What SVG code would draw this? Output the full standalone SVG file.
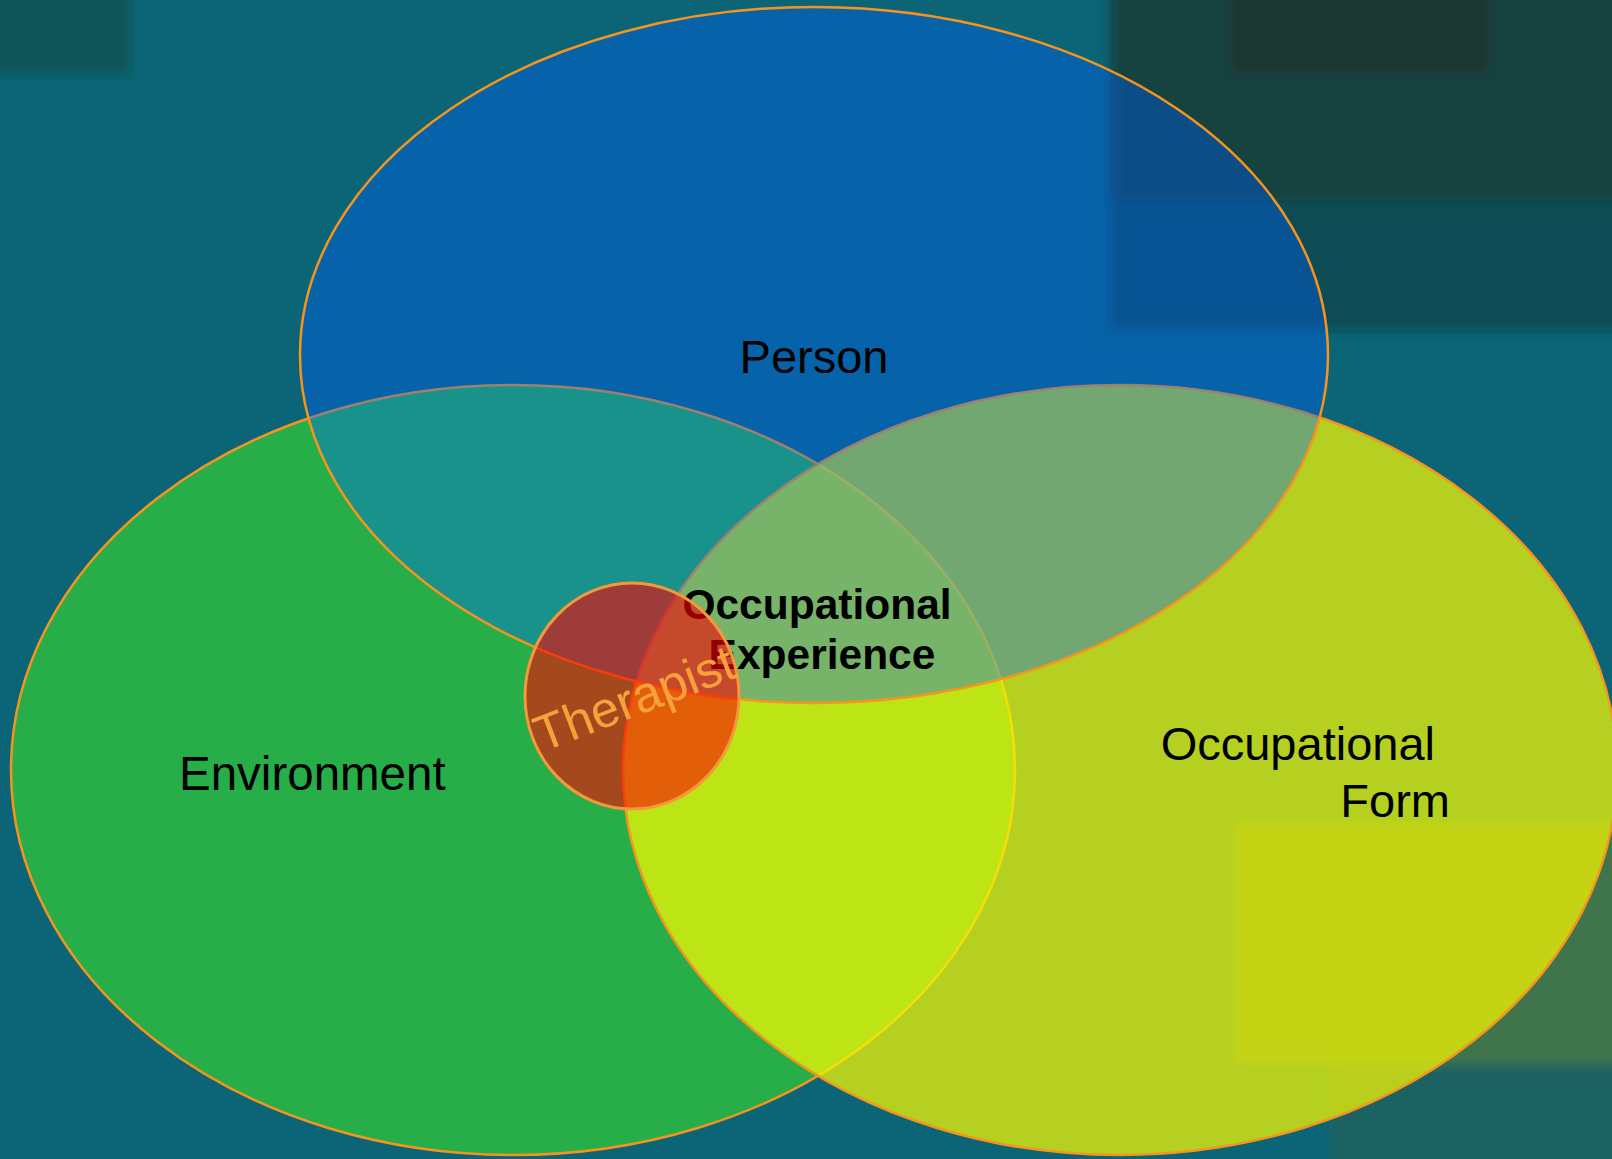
<svg xmlns="http://www.w3.org/2000/svg" width="1612" height="1159" viewBox="0 0 1612 1159">
  <defs>
    <filter id="soft" x="-10%" y="-10%" width="120%" height="120%">
      <feGaussianBlur stdDeviation="6"/>
    </filter>
    <style>
      .lbl { font-family: "Liberation Sans", Arial, sans-serif; font-size: 47px; fill: #000; }
      .bold { font-family: "Liberation Sans", Arial, sans-serif; font-size: 42.5px; font-weight: bold; fill: #000; }
      .edge { stroke: #f7941d; stroke-width: 2.5; }
    </style>
  </defs>

  <g id="background">
    <rect x="0" y="0" width="1612" height="1159" fill="#0b6577"/>
    <g filter="url(#soft)">
      <rect x="-20" y="-20" width="150" height="95" fill="#0e5558"/>
      <rect x="1110" y="-20" width="520" height="220" fill="#13423f"/>
      <rect x="1230" y="-20" width="260" height="95" fill="#1a3832"/>
      <rect x="1110" y="200" width="520" height="130" fill="#0f4c55"/>
      <rect x="1234" y="822" width="400" height="242" fill="#40744c"/>
      <rect x="1330" y="1064" width="300" height="120" fill="#1f6262"/>
    </g>
  </g>

  <g id="environment">
    <ellipse cx="513" cy="770" rx="502" ry="385" fill="#28ae48" class="edge"/>
  </g>

  <g id="occupational-form">
    <ellipse cx="1120" cy="770" rx="497" ry="385" fill="#f7f900" fill-opacity="0.72" class="edge"/>
  </g>

  <g id="person">
    <ellipse cx="814" cy="355" rx="514" ry="348" fill="#0062ff" fill-opacity="0.37" class="edge"/>
  </g>

  <g id="labels">
    <text class="lbl" x="814" y="373" text-anchor="middle">Person</text>
    <text class="lbl" x="179" y="790" style="font-size:47.5px">Environment</text>
    <text class="lbl" x="1435" y="760" text-anchor="end">Occupational</text>
    <text class="lbl" x="1450" y="817" text-anchor="end">Form</text>
    <text class="bold" x="817" y="619" text-anchor="middle">Occupational</text>
    <text class="bold" x="822" y="669" text-anchor="middle">Experience</text>
  </g>

  <g id="therapist">
    <ellipse cx="632" cy="696" rx="107" ry="113" fill="#fc0000" fill-opacity="0.59" stroke="#f7963a" stroke-width="3"/>
    <text class="lbl" transform="translate(640.6,714.5) rotate(-21)" x="0" y="0" text-anchor="middle" style="fill:#f7a03c;font-size:50.5px">Therapist</text>
  </g>
</svg>
